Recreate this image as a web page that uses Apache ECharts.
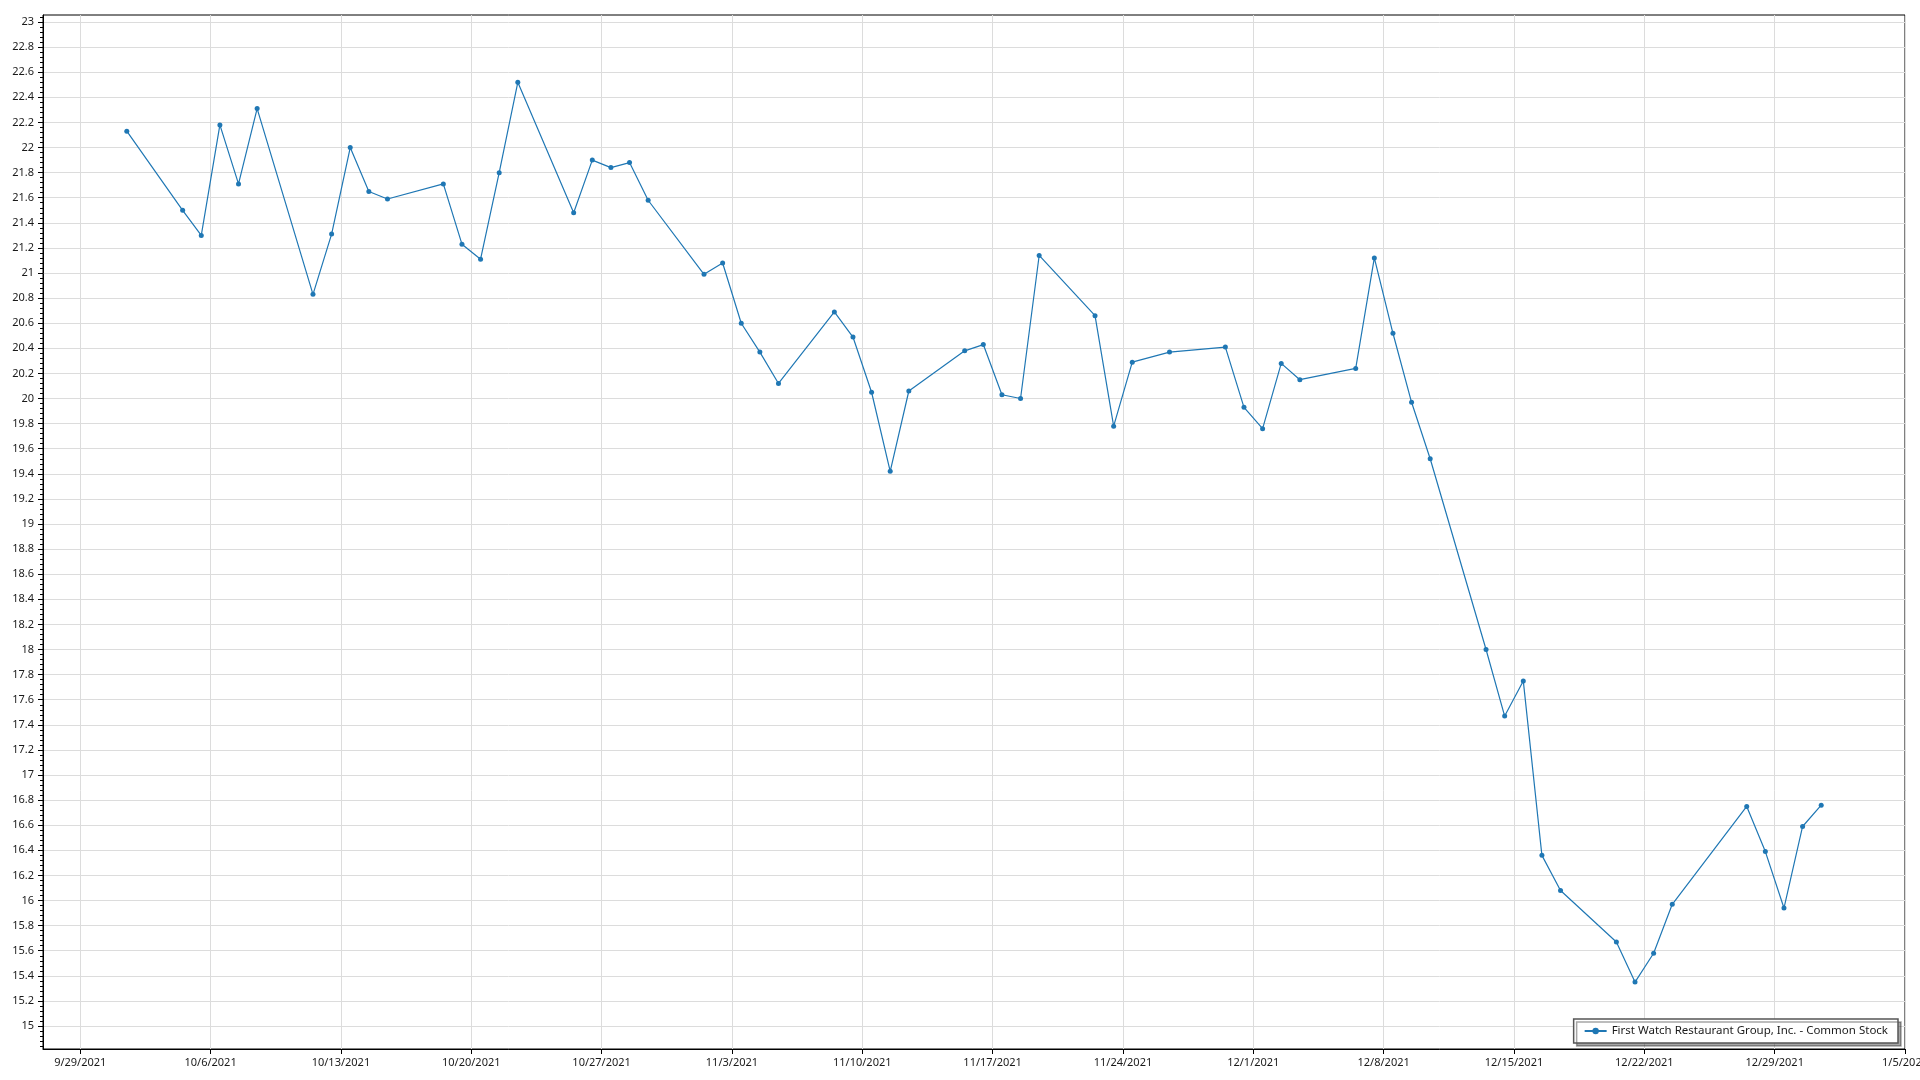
<!DOCTYPE html>
<html><head><meta charset="utf-8">
<script src="https://cdn.jsdelivr.net/npm/echarts@6.0.0/dist/echarts.min.js"></script>
<style>html,body{margin:0;padding:0;background:#fff;overflow:hidden}#c{width:1920px;height:1080px}</style>
</head><body><div id="c"></div>
<script>
const seriesName = 'First Watch Restaurant Group, Inc. - Common Stock';

const tradeDates = [
  '2021-10-01',
  '2021-10-04','2021-10-05','2021-10-06','2021-10-07','2021-10-08',
  '2021-10-11','2021-10-12','2021-10-13','2021-10-14','2021-10-15',
  '2021-10-18','2021-10-19','2021-10-20','2021-10-21','2021-10-22',
  '2021-10-25','2021-10-26','2021-10-27','2021-10-28','2021-10-29',
  '2021-11-01','2021-11-02','2021-11-03','2021-11-04','2021-11-05',
  '2021-11-08','2021-11-09','2021-11-10','2021-11-11','2021-11-12',
  '2021-11-15','2021-11-16','2021-11-17','2021-11-18','2021-11-19',
  '2021-11-22','2021-11-23','2021-11-24','2021-11-26',
  '2021-11-29','2021-11-30','2021-12-01','2021-12-02','2021-12-03',
  '2021-12-06','2021-12-07','2021-12-08','2021-12-09','2021-12-10',
  '2021-12-13','2021-12-14','2021-12-15','2021-12-16','2021-12-17',
  '2021-12-20','2021-12-21','2021-12-22','2021-12-23',
  '2021-12-27','2021-12-28','2021-12-29','2021-12-30','2021-12-31'
];

const closePrices = [
  22.13,
  21.50, 21.30, 22.18, 21.71, 22.31,
  20.83, 21.31, 22.00, 21.65, 21.59,
  21.71, 21.23, 21.11, 21.80, 22.52,
  21.48, 21.90, 21.84, 21.88, 21.58,
  20.99, 21.08, 20.60, 20.37, 20.12,
  20.69, 20.49, 20.05, 19.42, 20.06,
  20.38, 20.43, 20.03, 20.00, 21.14,
  20.66, 19.78, 20.29, 20.37,
  20.41, 19.93, 19.76, 20.28, 20.15,
  20.24, 21.12, 20.52, 19.97, 19.52,
  18.00, 17.47, 17.75, 16.36, 16.08,
  15.67, 15.35, 15.58, 15.97,
  16.75, 16.39, 15.94, 16.59, 16.76
];

const xTickDates = [
  '2021-09-29','2021-10-06','2021-10-13','2021-10-20','2021-10-27',
  '2021-11-03','2021-11-10','2021-11-17','2021-11-24','2021-12-01',
  '2021-12-08','2021-12-15','2021-12-22','2021-12-29','2022-01-05'
];

const yTickValues = [
  15, 15.2, 15.4, 15.6, 15.8, 16, 16.2, 16.4, 16.6, 16.8,
  17, 17.2, 17.4, 17.6, 17.8, 18, 18.2, 18.4, 18.6, 18.8,
  19, 19.2, 19.4, 19.6, 19.8, 20, 20.2, 20.4, 20.6, 20.8,
  21, 21.2, 21.4, 21.6, 21.8, 22, 22.2, 22.4, 22.6, 22.8, 23
];

function ts(d){ const p = d.split('-'); return Date.UTC(+p[0], +p[1]-1, +p[2]); }
const HALF_DAY = 12*3600*1000;
const xMin = ts('2021-09-27'), xMax = ts('2022-01-05');
const yMin = 14.817, yMax = 23.056;

const seriesData = tradeDates.map((d, i) => [ts(d) + HALF_DAY, closePrices[i]]);
const xTickTs = xTickDates.map(ts);

// minor ticks: 5 subdivisions per labelled step
const minorTicks = [];
const step = 0.04;
for (let k = 0; ; k++) {
  const v = Math.round((yTickValues[0] - k*step) * 1000) / 1000;
  if (v < yMin) break;
  minorTicks.push(v);
}
for (let k = 1; ; k++) {
  const v = Math.round((yTickValues[0] + k*step) * 1000) / 1000;
  if (v > yMax) break;
  minorTicks.push(v);
}

const font = '"Noto Sans", "Open Sans", sans-serif';
const chart = echarts.init(document.getElementById('c'), null, {renderer: 'canvas'});
chart.setOption({
  animation: false,
  backgroundColor: '#ffffff',
  grid: {
    left: 43, right: 15, top: 15, bottom: 31,
    show: true, borderColor: '#000', borderWidth: 1, backgroundColor: 'transparent',
    containLabel: false, outerBoundsMode: 'none'
  },
  legend: {
    right: 22, bottom: 37,
    data: [seriesName],
    backgroundColor: '#ffffff',
    borderColor: '#555555', borderWidth: 1.5,
    padding: [6, 10, 6, 10],
    shadowColor: 'rgba(0,0,0,0.35)', shadowBlur: 0, shadowOffsetX: 3, shadowOffsetY: 3,
    itemWidth: 22, itemHeight: 8, itemGap: 5,
    textStyle: { fontFamily: font, fontSize: 11.5, color: '#1a1a1a' }
  },
  xAxis: {
    type: 'value', min: xMin, max: xMax,
    axisLine: { show: true, lineStyle: { color: '#000', width: 1 } },
    axisTick: { show: true, length: 5, lineStyle: { color: '#000' }, customValues: xTickTs },
    axisLabel: {
      customValues: xTickTs, margin: 8, fontFamily: font, fontSize: 11, color: '#1a1a1a',
      formatter: v => { const d = new Date(v); return (d.getUTCMonth()+1) + '/' + d.getUTCDate() + '/' + d.getUTCFullYear(); }
    },
    splitLine: { show: true, lineStyle: { color: '#dcdcdc', width: 1 } }
  },
  yAxis: [{
    type: 'value', min: yMin, max: yMax,
    axisLine: { show: true, lineStyle: { color: '#000', width: 1 } },
    axisTick: { show: true, length: 5, lineStyle: { color: '#000' }, customValues: yTickValues },
    axisLabel: {
      customValues: yTickValues, margin: 9, fontFamily: font, fontSize: 11, color: '#1a1a1a',
      formatter: v => String(Math.round(v*10)/10)
    },
    splitLine: { show: true, lineStyle: { color: '#dcdcdc', width: 1 } }
  }, {
    type: 'value', min: yMin, max: yMax, position: 'left', offset: 0,
    axisLine: { show: false },
    axisTick: { show: true, length: 3, lineStyle: { color: '#000' }, customValues: minorTicks },
    axisLabel: { show: false },
    splitLine: { show: false }
  }],
  series: [{
    name: seriesName, type: 'line', yAxisIndex: 0,
    data: seriesData,
    symbol: 'circle', symbolSize: 5, showSymbol: true,
    lineStyle: { color: '#1f77b4', width: 1.2 },
    itemStyle: { color: '#1f77b4' },
    emphasis: { disabled: true }
  }]
});
</script>
</body></html>
